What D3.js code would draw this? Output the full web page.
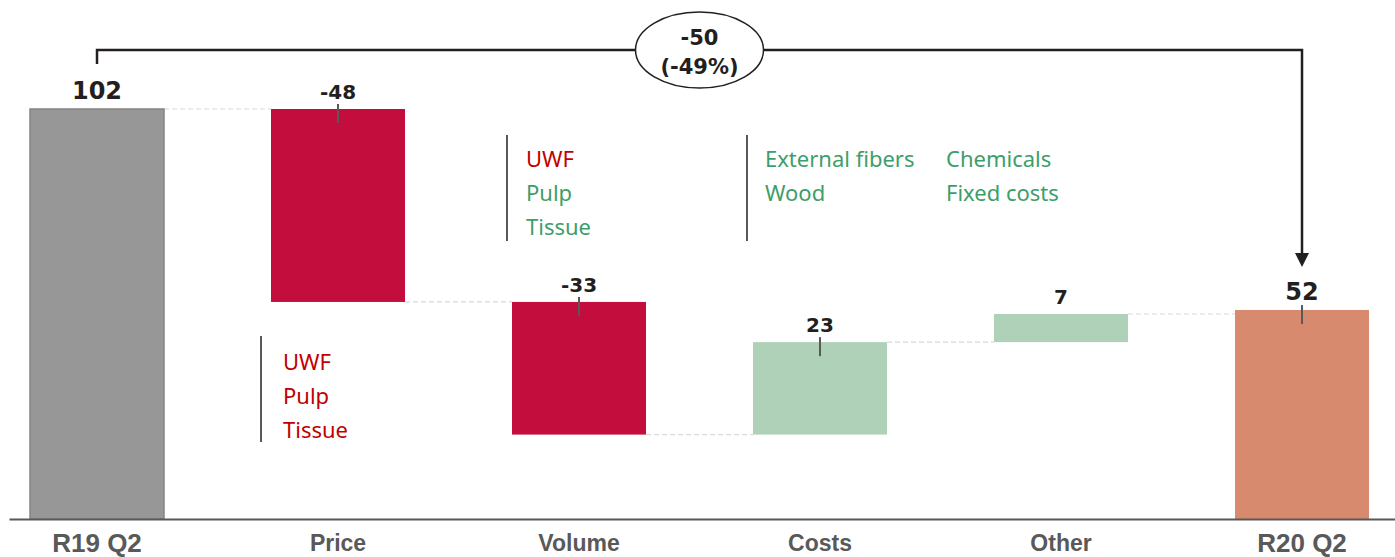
<!DOCTYPE html>
<html>
<head>
<meta charset="utf-8">
<script src="https://cdn.jsdelivr.net/npm/d3@7/dist/d3.min.js"></script>
<style>
  body { margin: 0; background: #ffffff; }
  svg { display: block; }
</style>
</head>
<body>
<svg id="chart" width="1395" height="557"></svg>
<script>
// Operating result bridge, R19 Q2 -> R20 Q2
const categories = ["R19 Q2", "Price", "Volume", "Costs", "Other", "R20 Q2"];
const values = [102, -48, -33, 23, 7, 52];
const barTypes = ["total", "delta", "delta", "delta", "delta", "total"];
const valueLabels = ["102", "-48", "-33", "23", "7", "52"];
const showTick = [false, true, true, true, false, true];

// Driver notes next to the bars
const priceNotes = ["UWF", "Pulp", "Tissue"];
const priceNoteNegative = [true, false, false];
const volumeNotes = ["UWF", "Pulp", "Tissue"];
const costNotesLeft = ["External fibers", "Wood"];
const costNotesRight = ["Chemicals", "Fixed costs"];

const W = 1395, H = 557;
const svg = d3.select("#chart");

const COLORS = {
  startTotal: "#979797",
  endTotal: "#D78A6D",
  negative: "#C30D3C",
  positive: "#AED1B8",
  ink: "#231F20",
  axis: "#595959",
  noteRed: "#C00000",
  noteGreen: "#3E9E69",
  connector: "#D9D9D9"
};

const x = d3.scaleBand()
  .domain(categories)
  .range([9, 1395])
  .paddingInner(0.444)
  .paddingOuter(0.0975)
  .align(0.447);

const y = d3.scaleLinear()
  .domain([0, d3.max(values)])
  .range([519, 109]);

// Build waterfall segments
let running = 0;
const bars = categories.map((c, i) => {
  let start, end;
  if (barTypes[i] === "total") {
    start = 0; end = values[i]; running = values[i];
  } else {
    start = running; end = running + values[i]; running = end;
  }
  let fill;
  if (barTypes[i] === "total") fill = i === 0 ? COLORS.startTotal : COLORS.endTotal;
  else fill = values[i] < 0 ? COLORS.negative : COLORS.positive;
  return { cat: c, i, start, end, level: end, top: Math.max(start, end), bottom: Math.min(start, end), fill };
});

const bw = x.bandwidth();

// Dashed connectors between consecutive bars
svg.append("g")
  .selectAll("line")
  .data(bars.slice(0, -1))
  .join("line")
  .attr("x1", d => x(d.cat) + bw)
  .attr("x2", d => x(categories[d.i + 1]))
  .attr("y1", d => y(d.level))
  .attr("y2", d => y(d.level))
  .attr("stroke", COLORS.connector)
  .attr("stroke-width", 1.2)
  .attr("stroke-dasharray", "5,3");

// Bars
svg.append("g")
  .selectAll("rect")
  .data(bars)
  .join("rect")
  .attr("x", d => x(d.cat))
  .attr("width", bw)
  .attr("y", d => y(d.top))
  .attr("height", d => y(d.bottom) - y(d.top))
  .attr("fill", d => d.fill)
  .attr("stroke", d => d.i === 0 ? "#858585" : "none")
  .attr("stroke-width", 1.5);

// Small ticks marking label anchor on the bars
svg.append("g")
  .selectAll("line")
  .data(bars.filter(d => showTick[d.i]))
  .join("line")
  .attr("x1", d => x(d.cat) + bw / 2)
  .attr("x2", d => x(d.cat) + bw / 2)
  .attr("y1", d => y(d.top) - 5)
  .attr("y2", d => y(d.top) + 14)
  .attr("stroke", COLORS.axis)
  .attr("stroke-width", 2);

// Value labels
svg.append("g")
  .selectAll("text")
  .data(bars)
  .join("text")
  .attr("x", d => x(d.cat) + bw / 2)
  .attr("y", d => y(d.top) - 10)
  .attr("text-anchor", "middle")
  .attr("font-family", "'DejaVu Sans', Verdana, sans-serif")
  .attr("font-weight", "bold")
  .attr("font-size", d => barTypes[d.i] === "total" ? 24 : 20)
  .attr("fill", COLORS.ink)
  .text(d => valueLabels[d.i]);

// Category axis
const axis = svg.append("g")
  .attr("transform", "translate(0,519)")
  .call(d3.axisBottom(x).tickSize(0).tickSizeOuter(0));
axis.select(".domain")
  .attr("stroke", COLORS.axis)
  .attr("stroke-width", 2);
axis.selectAll(".tick text")
  .attr("dy", null)
  .attr("y", (d, i) => barTypes[i] === "total" ? 33 : 32)
  .attr("font-family", "'Liberation Sans', Arial, sans-serif")
  .attr("font-weight", "bold")
  .attr("font-size", (d, i) => barTypes[i] === "total" ? 26 : 23)
  .attr("fill", COLORS.axis);

// Overall change bracket with arrow
const first = bars[0], last = bars[bars.length - 1];
const xa = x(first.cat) + bw / 2;
const xb = x(last.cat) + bw / 2;
const bracketY = 50;
const arrowTip = y(last.top) - 43;
svg.append("path")
  .attr("d", `M${xa},64 V${bracketY} H${xb} V${arrowTip - 12}`)
  .attr("fill", "none")
  .attr("stroke", COLORS.ink)
  .attr("stroke-width", 2.5);
svg.append("path")
  .attr("d", `M${xb - 7},${arrowTip - 14} L${xb + 7},${arrowTip - 14} L${xb},${arrowTip} Z`)
  .attr("fill", COLORS.ink);

const change = last.end - first.end;
const pct = change / first.end;
const cx = (xa + xb) / 2;
svg.append("ellipse")
  .attr("cx", cx).attr("cy", bracketY)
  .attr("rx", 64).attr("ry", 38)
  .attr("fill", "#ffffff")
  .attr("stroke", COLORS.ink)
  .attr("stroke-width", 1.5);
svg.append("g")
  .selectAll("text")
  .data([d3.format("d")(change), "(" + d3.format(".0%")(pct) + ")"])
  .join("text")
  .attr("x", cx)
  .attr("y", (d, i) => i === 0 ? 45 : 74)
  .attr("text-anchor", "middle")
  .attr("font-family", "'DejaVu Sans', Verdana, sans-serif")
  .attr("font-weight", "bold")
  .attr("font-size", 21)
  .attr("fill", COLORS.ink)
  .text(d => d.replace(/\u2212/g, "-"));

// Note blocks: a vertical rule with lines of text
function noteBlock(lineX, y0, y1, columns) {
  const g = svg.append("g");
  g.append("line")
    .attr("x1", lineX).attr("x2", lineX)
    .attr("y1", y0).attr("y2", y1)
    .attr("stroke", COLORS.axis)
    .attr("stroke-width", 2);
  columns.forEach(col => {
    g.append("g")
      .selectAll("text")
      .data(col.items)
      .join("text")
      .attr("x", col.x)
      .attr("y", (d, i) => col.baseline + i * 34)
      .attr("font-family", "'Noto Sans', 'Open Sans', sans-serif")
      .attr("font-size", 22)
      .attr("fill", (d, i) => col.colorOf(i))
      .text(d => d);
  });
}

// Price drivers
noteBlock(x("Volume") - 5, 135, 241, [
  { x: x("Volume") + 14, baseline: 167, items: priceNotes,
    colorOf: i => priceNoteNegative[i] ? COLORS.noteRed : COLORS.noteGreen }
]);

// Cost drivers
noteBlock(x("Costs") - 6, 135, 241, [
  { x: x("Costs") + 12, baseline: 167, items: costNotesLeft, colorOf: () => COLORS.noteGreen },
  { x: x("Other") - 48, baseline: 167, items: costNotesRight, colorOf: () => COLORS.noteGreen }
]);

// Volume drivers
noteBlock(x("Price") - 10, 336, 442, [
  { x: x("Price") + 12, baseline: 370, items: volumeNotes, colorOf: () => COLORS.noteRed }
]);
</script>
</body>
</html>
